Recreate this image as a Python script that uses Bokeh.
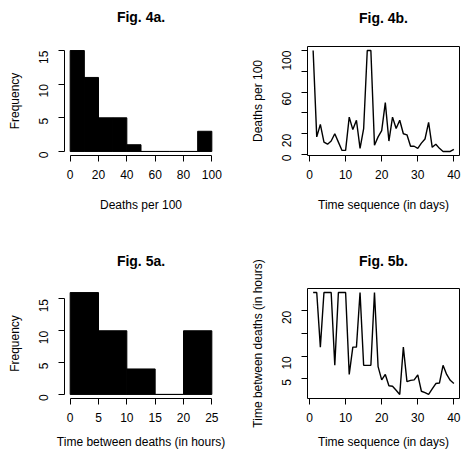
import math
from bokeh.plotting import figure
from bokeh.layouts import gridplot
from bokeh.models import FixedTicker, Range1d, LinearAxis
from bokeh.embed import file_html
from bokeh.resources import INLINE

FONT = "Liberation Sans"

# ---------------- data ----------------
# Fig. 4a: histogram of deaths per 100
hist4_edges = [0, 10, 20, 30, 40, 50, 60, 70, 80, 90, 100]
hist4_counts = [15, 11, 5, 5, 1, 0, 0, 0, 0, 3]

# Fig. 4b: deaths per 100 by day
days = list(range(1, 41))
deaths_per_100 = [100, 17, 29, 12, 10, 13, 20, 12, 4, 4,
                  36, 24, 33, 6, 25, 100, 100, 9, 17, 23,
                  50, 13, 36, 25, 33, 20, 19, 8, 8, 6,
                  11, 15, 31, 7, 10, 6, 3, 3, 3, 5]

# Fig. 5a: histogram of time between deaths (hours)
hist5_edges = [0, 5, 10, 15, 20, 25]
hist5_counts = [16, 10, 4, 0, 10]

# Fig. 5b: time between deaths by day
hours_between = [24, 24, 12, 24, 24, 24, 8, 24, 24, 24,
                 6, 12, 12, 24, 8, 8, 8, 24, 7.7, 4.8,
                 6, 3.5, 3.4, 2.5, 1.6, 12, 4.4, 4.7, 4.8, 5.9,
                 2.3, 2.0, 1.6, 2.8, 4.0, 4.1, 8, 6, 4.7, 4.0]

ticks_4a_x = [0, 20, 40, 60, 80, 100]
ticks_4a_y = [0, 5, 10, 15]
ticks_4b_x = [0, 10, 20, 30, 40]
ticks_4b_y = [0, 20, 40, 60, 80, 100]
ticks_5a_x = [0, 5, 10, 15, 20, 25]
ticks_5a_y = [0, 5, 10, 15]
ticks_5b_x = [0, 10, 20, 30, 40]
ticks_5b_y = [5, 10, 15, 20]


def r_range(lo, hi):
    d = (hi - lo) * 0.04
    return (lo - d, hi + d)


def make_fig(width, height, left, right, top, bottom, xr, yr, title,
             xlabel, ylabel, xticks, yticks, xb, yb, box=False, yoverrides=None,
             title_standoff=22, xlabel_standoff=16):
    p = figure(width=width, height=height,
               x_range=Range1d(*xr), y_range=Range1d(*yr),
               output_backend="svg", toolbar_location=None,
               min_border_left=left, min_border_right=right,
               min_border_top=top, min_border_bottom=bottom)
    p.background_fill_color = "white"
    p.border_fill_color = "white"
    p.grid.visible = False
    p.outline_line_color = "black" if box else None
    p.outline_line_width = 1

    xa = p.below[0]
    ya = p.left[0]
    for ax in (xa, ya):
        ax.axis_line_color = "black"
        ax.axis_line_width = 1
        ax.major_tick_line_color = "black"
        ax.major_tick_out = 6
        ax.major_tick_in = 0
        ax.minor_tick_line_color = None
        ax.major_label_text_font = FONT
        ax.major_label_text_font_size = "12px"
        ax.major_label_text_color = "black"
        ax.axis_label_text_font = FONT
        ax.axis_label_text_font_size = "12px"
        ax.axis_label_text_font_style = "normal"
        ax.axis_label_text_color = "black"
    xa.ticker = FixedTicker(ticks=xticks)
    ya.ticker = FixedTicker(ticks=yticks)
    xa.bounds = xb
    ya.bounds = yb
    xa.axis_label = xlabel
    ya.axis_label = ylabel
    xa.major_label_standoff = 8
    xa.axis_label_standoff = xlabel_standoff
    ya.major_label_orientation = math.pi / 2
    ya.major_label_standoff = 15
    ya.axis_label_standoff = 10
    if yoverrides:
        ya.major_label_overrides = yoverrides

    # panel title, drawn as the label of a bare axis above the plot
    tax = LinearAxis(axis_label=title, ticker=FixedTicker(ticks=[]))
    tax.axis_line_color = None
    tax.major_tick_line_color = None
    tax.minor_tick_line_color = None
    tax.major_tick_out = 0
    tax.major_tick_in = 0
    tax.minor_tick_out = 0
    tax.major_label_standoff = 0
    tax.axis_label_standoff = title_standoff
    tax.axis_label_text_font = FONT
    tax.axis_label_text_font_size = "14px"
    tax.axis_label_text_font_style = "bold"
    tax.axis_label_text_color = "black"
    p.add_layout(tax, "above")
    return p


# Fig. 4a
p1 = make_fig(230, 228, 64, 13, 46, 72,
              r_range(0, 100), r_range(0, 15), "Fig. 4a.",
              "Deaths per 100", "Frequency", ticks_4a_x, ticks_4a_y,
              (0, 100), (0, 15))
p1.quad(left=hist4_edges[:-1], right=hist4_edges[1:], top=hist4_counts, bottom=0,
        fill_color="black", line_color="black", line_width=1)

# Fig. 4b
p2 = make_fig(231, 228, 77, 2, 45, 73,
              r_range(min(days), max(days)),
              r_range(min(deaths_per_100), max(deaths_per_100)), "Fig. 4b.",
              "Time sequence (in days)", "Deaths per 100", ticks_4b_x, ticks_4b_y,
              (0, 40), (0, 100), box=True, yoverrides={40: "", 80: ""},
              title_standoff=21)
p2.line(days, deaths_per_100, line_color="black", line_width=1.4)

# Fig. 5a
p3 = make_fig(230, 228, 64, 13, 60, 58,
              r_range(0, 25), r_range(0, 16), "Fig. 5a.",
              "Time between deaths (in hours)", "Frequency", ticks_5a_x, ticks_5a_y,
              (0, 25), (0, 15), title_standoff=20, xlabel_standoff=10)
p3.quad(left=hist5_edges[:-1], right=hist5_edges[1:], top=hist5_counts, bottom=0,
        fill_color="black", line_color="black", line_width=1)

# Fig. 5b
p4 = make_fig(231, 228, 77, 2, 60, 58,
              r_range(min(days), max(days)),
              r_range(min(hours_between), max(hours_between)), "Fig. 5b.",
              "Time sequence (in days)", "Time between deaths (in hours)",
              ticks_5b_x, ticks_5b_y, (0, 40), (5, 20), box=True,
              yoverrides={15: ""}, title_standoff=20, xlabel_standoff=10)
p4.line(days, hours_between, line_color="black", line_width=1.4)

grid = gridplot([[p1, p2], [p3, p4]], toolbar_location=None)

open("out.html", "w").write(file_html(grid, INLINE))
